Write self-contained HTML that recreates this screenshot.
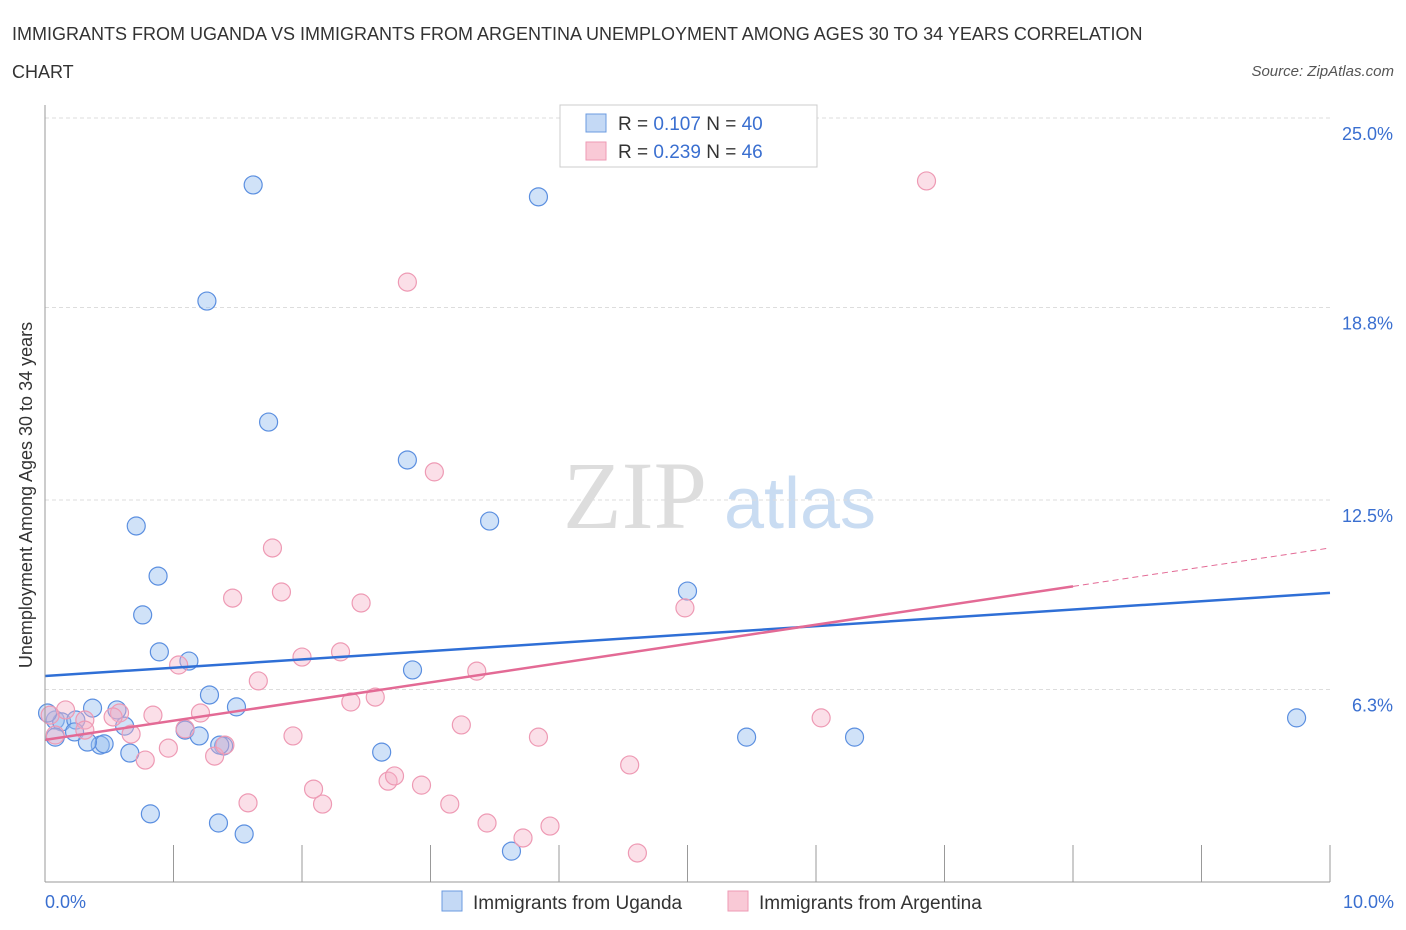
<!DOCTYPE html>
<html><head><meta charset="utf-8"><style>
body{margin:0;background:#fff;font-family:"Liberation Sans",sans-serif}
svg{display:block}
</style></head><body>
<svg width="1406" height="930" id="c">
<text x="12" y="40" font-size="18" fill="#333">IMMIGRANTS FROM UGANDA VS IMMIGRANTS FROM ARGENTINA UNEMPLOYMENT AMONG AGES 30 TO 34 YEARS CORRELATION</text>
<text x="12" y="78" font-size="18" fill="#333">CHART</text>
<text x="1394" y="76" font-size="15" fill="#555" text-anchor="end" font-style="italic">Source: ZipAtlas.com</text>
<text x="32" y="495" font-size="18" fill="#333" text-anchor="middle" transform="rotate(-90 32 495)">Unemployment Among Ages 30 to 34 years</text>
<g><text x="635" y="528" font-size="96" fill="#ddd" text-anchor="middle" font-family="Liberation Serif,serif">ZIP</text><text x="800" y="528" font-size="72" fill="#c9dcf2" text-anchor="middle">atlas</text></g>
<g id="grid"></g><g id="pts"></g><g id="lines"></g>
<line x1="45" y1="105" x2="45" y2="882" stroke="#999"/>
<line x1="45" y1="882" x2="1330" y2="882" stroke="#999"/>
<text x="45" y="908" font-size="18" fill="#3a6fd0">0.0%</text>
<text x="1394" y="908" font-size="18" fill="#3a6fd0" text-anchor="end">10.0%</text>
<g>
<rect x="560" y="105" width="257" height="62" fill="#fff" stroke="#ccc"/>
<rect x="586" y="114" width="20" height="18" fill="#c4d9f5" stroke="#6b9be0"/>
<rect x="586" y="142" width="20" height="18" fill="#f9c9d6" stroke="#ee9ab4"/>
<text x="618" y="130" font-size="19" fill="#333">R = <tspan fill="#3a6fd0">0.107</tspan>   N = <tspan fill="#3a6fd0">40</tspan></text>
<text x="618" y="158" font-size="19" fill="#333">R = <tspan fill="#3a6fd0">0.239</tspan>   N = <tspan fill="#3a6fd0">46</tspan></text>
</g>
<g>
<rect x="442" y="891" width="20" height="20" fill="#c4d9f5" stroke="#6b9be0"/>
<text x="473" y="909" font-size="19" fill="#333">Immigrants from Uganda</text>
<rect x="728" y="891" width="20" height="20" fill="#f9c9d6" stroke="#ee9ab4"/>
<text x="759" y="909" font-size="19" fill="#333">Immigrants from Argentina</text>
</g>
</svg>
<script>
const yTicks=[25.0,18.8,12.5,6.3];
const yTickLabels=["25.0%","18.8%","12.5%","6.3%"];
const xTicks=[1,2,3,4,5,6,7,8,9,10];
const ugandaX=[1.62,3.84,1.26,1.74,2.82,3.46,0.71,0.88,5.00,0.76,0.89,1.12,2.86,1.28,1.49,0.37,0.56,0.08,0.13,0.24,0.62,1.09,1.20,0.08,0.23,0.43,0.46,0.33,0.66,1.39,2.62,5.46,6.30,9.74,0.82,1.35,1.55,3.63,0.02,1.36];
const ugandaY=[22.81,22.42,19.01,15.05,13.81,11.81,11.65,10.01,9.52,8.74,7.53,7.23,6.94,6.12,5.73,5.69,5.63,5.30,5.24,5.30,5.10,4.97,4.78,4.74,4.91,4.48,4.52,4.58,4.22,4.45,4.25,4.74,4.74,5.37,2.23,1.93,1.57,1.01,5.53,4.48];
const argX=[6.86,2.82,3.03,1.77,1.46,1.84,2.46,4.98,2.30,2.00,1.04,3.36,1.66,2.57,2.38,1.21,0.84,0.58,3.24,6.04,1.93,3.84,1.09,0.53,0.16,0.04,0.31,0.67,0.96,1.32,0.78,4.55,2.67,2.72,2.93,1.58,2.16,2.09,3.15,3.44,3.93,3.72,4.61,1.40,0.31,0.08];
const argY=[22.94,19.63,13.42,10.93,9.29,9.49,9.13,8.97,7.53,7.36,7.10,6.90,6.58,6.05,5.89,5.53,5.46,5.53,5.14,5.37,4.78,4.74,5.01,5.40,5.63,5.46,5.30,4.84,4.38,4.12,3.99,3.83,3.30,3.47,3.17,2.59,2.55,3.04,2.55,1.93,1.83,1.44,0.95,4.48,4.97,4.81];
const ugandaTrend=[6.74,0.272];
const argTrend=[4.65,0.628];
const NS='http://www.w3.org/2000/svg';
const sx=v=>45+v*128.5, sy=v=>882-v*30.56;
function mk(t,a,p){const e=document.createElementNS(NS,t);for(const k in a)e.setAttribute(k,a[k]);document.getElementById(p).appendChild(e);return e;}
yTicks.forEach((v,i)=>{
const g=mk('line',{x1:45,x2:1330,y1:sy(v),y2:sy(v),stroke:'#ddd','stroke-dasharray':'4 3'},'grid');


const t=mk('text',{x:1393,y:sy(v)+22,'font-size':18,fill:'#3a6fd0','text-anchor':'end'},'grid');
t.textContent=yTickLabels[i];


});
xTicks.forEach(v=>{
const l=mk('line',{x1:sx(v),x2:sx(v),y1:845,y2:882,stroke:'#999'},'grid');


});
ugandaX.forEach((x,i)=>{
const c=mk('circle',{cx:sx(x),cy:sy(ugandaY[i]),r:9,fill:'rgba(150,190,240,0.45)',stroke:'#5b8fe0','stroke-width':1.2},'pts');


});
argX.forEach((x,i)=>{
const c=mk('circle',{cx:sx(x),cy:sy(argY[i]),r:9,fill:'rgba(245,175,198,0.4)',stroke:'#ee9ab4','stroke-width':1.2},'pts');


});
let l1=mk('line',{x1:sx(0),y1:sy(ugandaTrend[0]),x2:sx(10),y2:sy(ugandaTrend[0]+10*ugandaTrend[1]),stroke:'#2f6fd6','stroke-width':2.5},'lines');


let l2=mk('line',{x1:sx(0),y1:sy(argTrend[0]),x2:sx(8),y2:sy(argTrend[0]+8*argTrend[1]),stroke:'#e36a95','stroke-width':2.5},'lines');


let l3=mk('line',{x1:sx(8),y1:sy(argTrend[0]+8*argTrend[1]),x2:sx(10),y2:sy(argTrend[0]+10*argTrend[1]),stroke:'#e36a95','stroke-width':1,'stroke-dasharray':'6 4'},'lines');


</script>
</body></html>
